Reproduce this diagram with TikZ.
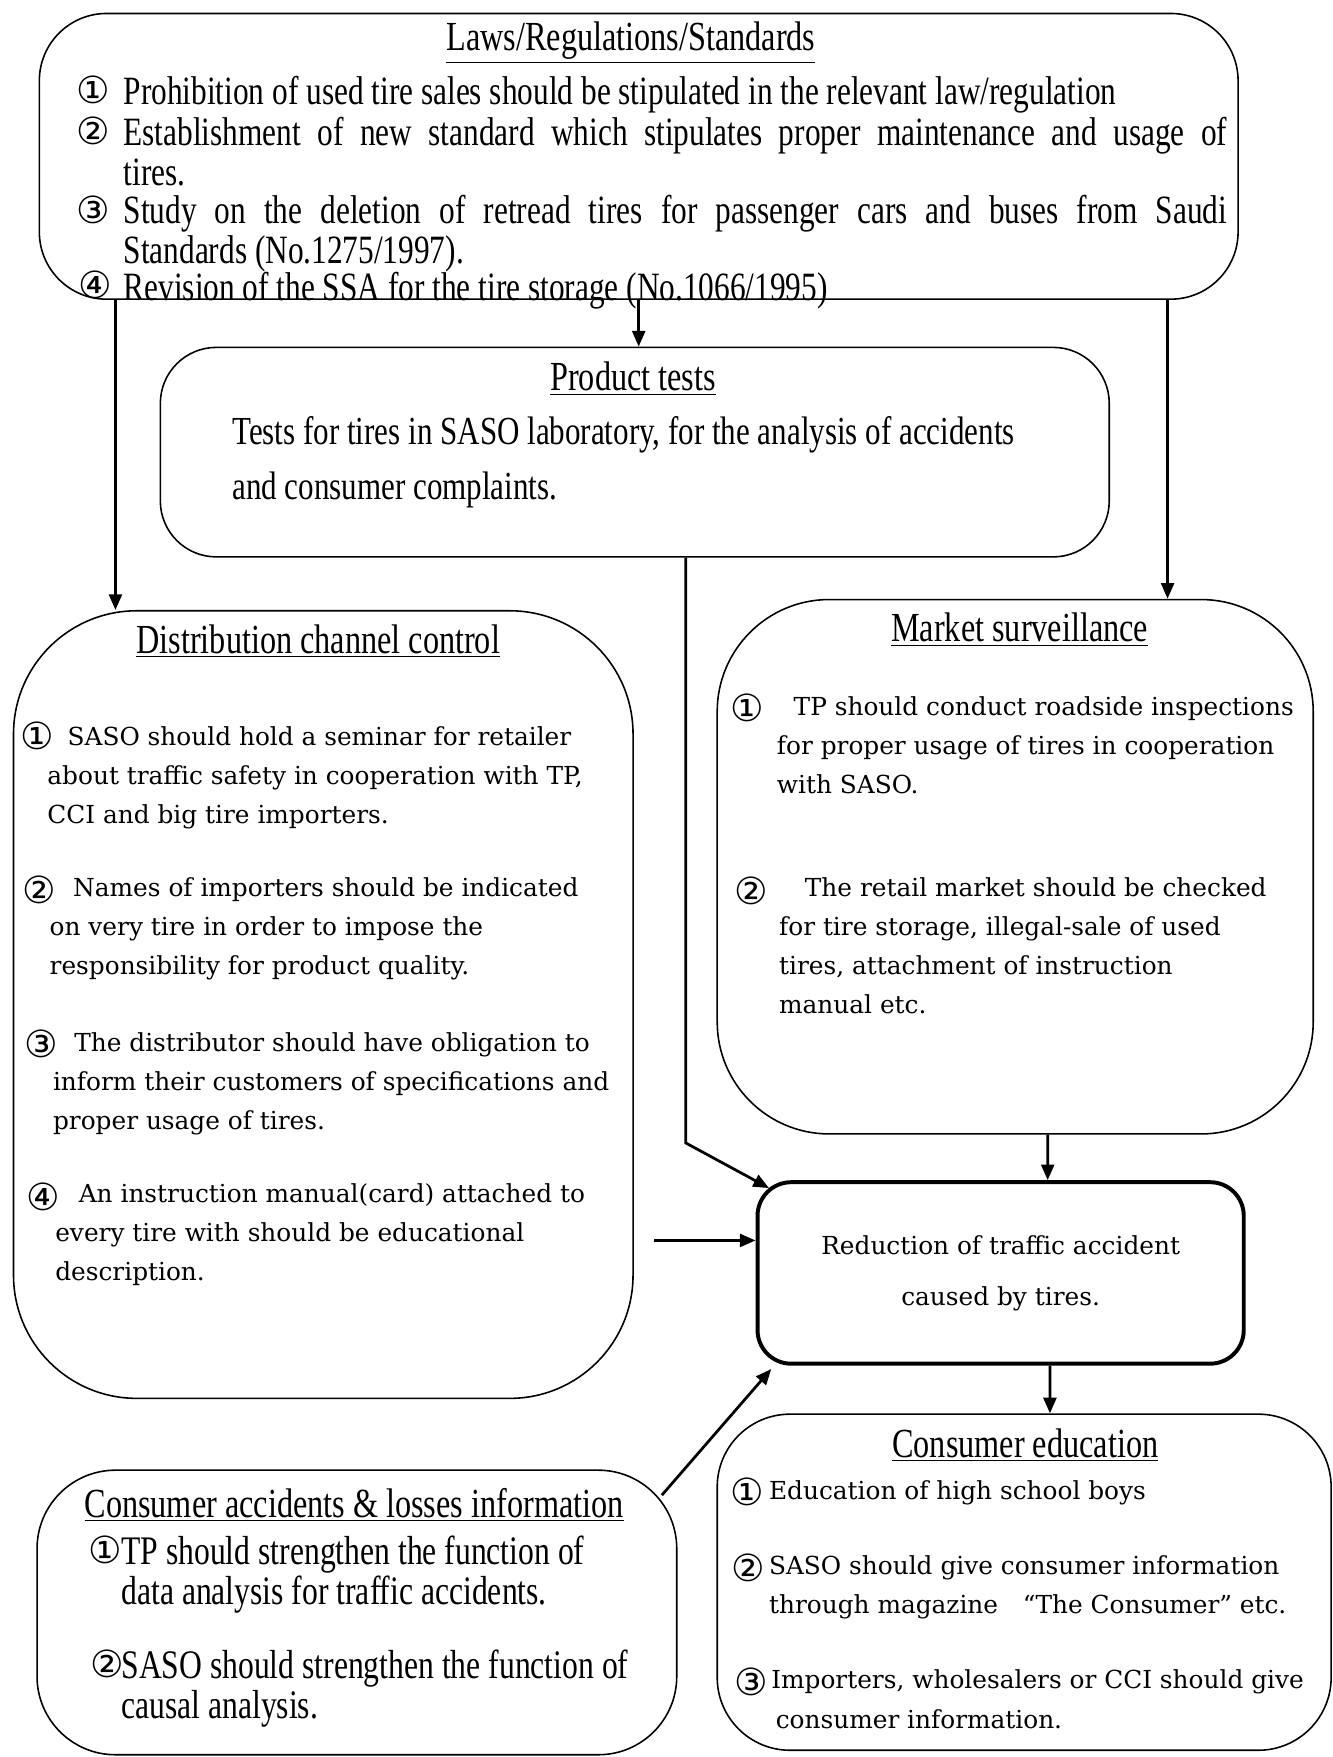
\documentclass[tikz,border=0pt]{standalone}
\usepackage{fontspec}
\setmainfont{DejaVu Serif}
\newfontfamily\narrowfont{Liberation Serif}[FakeStretch=0.78]
\newfontfamily\circfont{DejaVu Sans}
\usetikzlibrary{arrows.meta,positioning}
\newcommand{\cnum}[1]{{\circfont #1}}

\begin{document}
\begin{tikzpicture}[x=0.02cm,y=-0.02cm,
	box/.style={draw,line width=0.8pt,rounded corners=#1,inner sep=0pt},
	head/.style={inner sep=0pt,font=\narrowfont\fontsize{21}{22}\selectfont},
	num/.style={inner sep=0pt,font=\fontsize{19}{19}\selectfont},
	lawtxt/.style={anchor=north west,inner sep=0pt,align=left,font=\narrowfont\fontsize{20.4}{20.4}\selectfont},
	prodtxt/.style={anchor=north west,inner sep=0pt,align=left,font=\narrowfont\fontsize{20.2}{28}\selectfont},
	acctxt/.style={anchor=north west,inner sep=0pt,align=left,font=\narrowfont\fontsize{20.6}{20.5}\selectfont},
	bodytxt/.style={anchor=north west,inner sep=0pt,align=left,font=\fontsize{12.6}{19.8}\selectfont},
	edtxt/.style={anchor=north west,inner sep=0pt,align=left,font=\fontsize{12.6}{20}\selectfont},
	arrow/.style={-{Triangle[length=2.8mm,width=2.3mm]},line width=1.4pt}]
	\useasboundingbox (0,0) rectangle (1189,1568);

	% boxes
	\node[box=1.2cm,minimum width=21.4cm,minimum height=5.1cm]		(laws)		at (570,139.5)	{};
	\node[box=1cm,minimum width=16.94cm,minimum height=3.74cm]		(prod)		at (566.5,403.5)	{};
	\node[box=2.2cm,minimum width=11.06cm,minimum height=14.06cm]	(dist)		at (288.5,896.5)	{};
	\node[box=2cm,minimum width=10.64cm,minimum height=9.54cm]		(mkt)		at (906,773.5)	{};
	\node[box=0.6cm,line width=2pt,minimum width=8.68cm,minimum height=3.24cm,
		align=center,font=\fontsize{12.6}{26}\selectfont]				(red)		at (893,1136)	{Reduction of traffic accident\\caused by tires.};
	\node[box=1.3cm,minimum width=10.96cm,minimum height=6cm]		(consed)	at (914,1412)	{};
	\node[box=1.4cm,minimum width=11.42cm,minimum height=5.08cm]	(consacc)	at (318.5,1439)	{};

	% titles
	\node[head]	(lawsT)		at (563,38)		{\underline{Laws/Regulations/Standards}};
	\node[head]	(prodT)		at (565,338)	{\underline{Product tests}};
	\node[head]	(distT)		at (284,572)	{\underline{Distribution channel control}};
	\node[head]	(mktT)		at (910,562)	{\underline{Market surveillance}};
	\node[head]	(consedT)	at (915,1290)	{\underline{Consumer education}};
	\node[head]	(consaccT)	at (316,1343)	{\underline{Consumer accidents \& losses information}};

	% laws
	\node[num]	(lawsN1)	at (83,80)		{\cnum{①}};
	\node[lawtxt]	(laws1)	at (110,68)		{Prohibition of used tire sales should be stipulated in the relevant law/regulation};
	\node[num]	(lawsN2)	at (83,117)		{\cnum{②}};
	\node[lawtxt,text width=19.7cm,align=justify]	(laws2)	at (110,104)	{Establishment of new standard which stipulates proper maintenance and usage of\linebreak tires.};
	\node[num]	(lawsN3)	at (83,187)		{\cnum{③}};
	\node[lawtxt,text width=19.7cm,align=justify]	(laws3)	at (110,174)	{Study on the deletion of retread tires for passenger cars and buses from Saudi\linebreak Standards (No.1275/1997).};
	\node[num]	(lawsN4)	at (85,254)		{\cnum{④}};
	\node[lawtxt]	(laws4)	at (110,243)	{Revision of the SSA for the tire storage (No.1066/1995)};

	% product tests
	\node[prodtxt]	(prod1)	at (207,371)	{Tests for tires in SASO laboratory, for the analysis of accidents\\and consumer complaints.};

	% distribution channel control
	\node[num]	(distN1)	at (33,657)		{\cnum{①}};
	\node[bodytxt]	(dist1)	at (42,648)		{\hspace*{0.36cm}SASO should hold a seminar for retailer\\about traffic safety in cooperation with TP,\\CCI and big tire importers.};
	\node[num]	(distN2)	at (35,794)		{\cnum{②}};
	\node[bodytxt]	(dist2)	at (44,783)		{\hspace*{0.42cm}Names of importers should be indicated\\on very tire in order to impose the\\responsibility for product quality.};
	\node[num]	(distN3)	at (37,932)		{\cnum{③}};
	\node[bodytxt]	(dist3)	at (47,921)		{\hspace*{0.38cm}The distributor should have obligation to\\inform their customers of specifications and\\proper usage of tires.};
	\node[num]	(distN4)	at (39,1068)	{\cnum{④}};
	\node[bodytxt]	(dist4)	at (49,1056)	{\hspace*{0.42cm}An instruction manual(card) attached to\\every tire with should be educational\\description.};

	% market surveillance
	\node[num]	(mktN1)		at (667,632)	{\cnum{①}};
	\node[bodytxt]	(mkt1)	at (693,621)	{\hspace*{0.3cm}TP should conduct roadside inspections\\for proper usage of tires in cooperation\\with SASO.};
	\node[num]	(mktN2)		at (670,795)	{\cnum{②}};
	\node[bodytxt]	(mkt2)	at (695,783)	{\hspace*{0.46cm}The retail market should be checked\\for tire storage, illegal-sale of used\\tires, attachment of instruction\\manual etc.};

	% consumer education
	\node[num]	(consedN1)	at (667,1331)	{\cnum{①}};
	\node[edtxt]	(consed1)	at (686,1321)	{Education of high school boys};
	\node[num]	(consedN2)	at (668,1399)	{\cnum{②}};
	\node[edtxt]	(consed2)	at (686,1388)	{SASO should give consumer information\\through magazine\quad “The Consumer” etc.};
	\node[num]	(consedN3)	at (670,1501)	{\cnum{③}};
	\node[edtxt]	(consed3)	at (688,1490)	{Importers, wholesalers or CCI should give\\\hspace*{0.08cm}consumer information.};

	% consumer accidents
	\node[num]	(consaccN1)	at (94,1383)	{\cnum{①}};
	\node[acctxt]	(consacc1)	at (108,1370)	{TP should strengthen the function of\\data analysis for traffic accidents.};
	\node[num]	(consaccN2)	at (96,1485)	{\cnum{②}};
	\node[acctxt]	(consacc2)	at (108,1472)	{SASO should strengthen the function of\\causal analysis.};

	% arrows
	\coordinate (dtop)	at ([xshift=-3.71cm]dist.north);
	\coordinate (mtop)	at ([xshift=2.72cm]mkt.north);
	\coordinate (pbot)	at ([xshift=0.91cm]prod.south);
	\coordinate (pbend)	at (612,1020);
	\draw[arrow] (laws.south) -- (laws.south |- prod.north);
	\draw[arrow] (dtop |- laws.south) -- (dtop);
	\draw[arrow] (mtop |- laws.south) -- (mtop);
	\draw[arrow] (pbot) -- (pbend) -- ([xshift=0.24cm,yshift=-0.14cm]red.north west);
	\draw[arrow] ([xshift=0.58cm]mkt.south) -- ([xshift=0.84cm]red.north);
	\draw[arrow] ([xshift=0.36cm,yshift=-4.21cm]dist.east) -- ([yshift=0.58cm]red.west);
	\draw[arrow] ([xshift=-0.28cm,yshift=-0.46cm]consacc.north east) -- ([xshift=0.28cm,yshift=-0.06cm]red.south west);
	\draw[arrow] ([xshift=0.88cm]red.south) -- ([xshift=0.46cm]consed.north);
\end{tikzpicture}
\end{document}
